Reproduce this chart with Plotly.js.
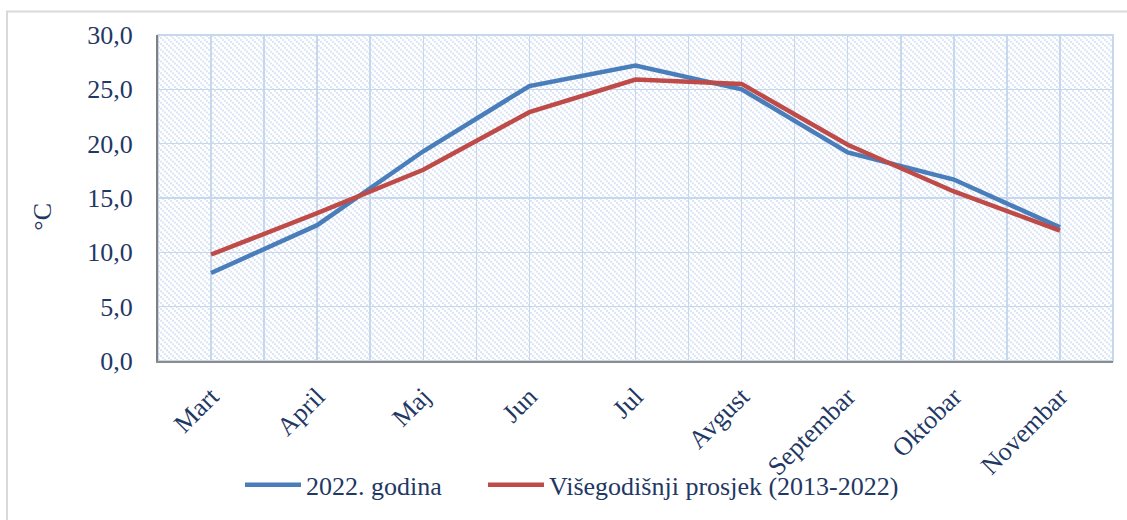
<!DOCTYPE html>
<html>
<head>
<meta charset="utf-8">
<script src="https://cdn.plot.ly/plotly-3.0.1.min.js"></script>
<style>html,body{margin:0;padding:0;background:#fff;}#chart{width:1127px;height:520px;}</style>
</head>
<body>
<div id="chart"></div>
<script>
const categories = ["Mart", "April", "Maj", "Jun", "Jul", "Avgust", "Septembar", "Oktobar", "Novembar"];
const series2022 = [8.1, 12.5, 19.3, 25.3, 27.2, 25.0, 19.2, 16.7, 12.3];
const seriesAvg = [9.8, 13.6, 17.6, 22.9, 25.9, 25.5, 19.9, 15.6, 12.0];
const seriesNames = ["2022. godina", "Višegodišnji prosjek (2013-2022)"];
const yTitle = "°C";

const idx = categories.map((c, i) => i);
const txtColor = "#1f3864";
const gridColor = "#c6d7ee";
const fontFam = "Liberation Serif, Times New Roman, serif";
const fs = 26;

const hatch = "<svg xmlns='http://www.w3.org/2000/svg' width='955' height='332'>" +
  "<defs><pattern id='p' width='6' height='6' patternUnits='userSpaceOnUse'>" +
  "<rect x='0' y='0' width='2' height='2' fill='#dbe5f5'/>" +
  "<rect x='2' y='2' width='2' height='2' fill='#dbe5f5'/>" +
  "<rect x='4' y='4' width='2' height='2' fill='#dbe5f5'/>" +
  "</pattern></defs><rect width='955' height='332' fill='white'/><rect width='955' height='332' fill='url(#p)'/></svg>";
const hatchSrc = "data:image/svg+xml;charset=utf-8," + encodeURIComponent(hatch);

const traces = [
  {x: idx, y: series2022, name: seriesNames[0], type: "scatter", mode: "lines",
   line: {color: "#4a7ebb", width: 4.5}, legend: "legend"},
  {x: idx, y: seriesAvg, name: seriesNames[1], type: "scatter", mode: "lines",
   line: {color: "#be4b48", width: 4.5}, legend: "legend2"}
];

const legendBase = {orientation: "h", xanchor: "left", y: -0.38, yanchor: "middle",
  font: {family: fontFam, size: fs, color: txtColor}, itemwidth: 56, bgcolor: "rgba(0,0,0,0)"};

const layout = {
  width: 1127, height: 520,
  margin: {l: 158, r: 14, t: 35, b: 153},
  paper_bgcolor: "#ffffff",
  plot_bgcolor: "rgba(0,0,0,0)",
  separators: ",.",
  font: {family: fontFam, color: txtColor, size: fs},
  showlegend: true,
  legend: Object.assign({}, legendBase, {x: (240 - 158) / 955}),
  legend2: Object.assign({}, legendBase, {x: (483 - 158) / 955}),
  xaxis: {
    type: "linear", range: [-0.5, categories.length - 0.5],
    tickmode: "array", tickvals: idx, ticktext: categories, tickangle: -45,
    tickfont: {family: fontFam, size: fs, color: txtColor},
    showgrid: true, gridcolor: gridColor, gridwidth: 1.5,
    minor: {tick0: -0.5, dtick: 1, showgrid: true, gridcolor: gridColor, gridwidth: 1.5, ticks: ""},
    zeroline: false, showline: true, linecolor: "#8c8c8c", linewidth: 2, ticks: "",
    ticklabelstandoff: 8,
    fixedrange: true
  },
  yaxis: {
    range: [0, 30], dtick: 5, tick0: 0, tickformat: ".1f",
    tickfont: {family: fontFam, size: fs, color: txtColor},
    showgrid: true, gridcolor: gridColor, gridwidth: 1.5,
    zeroline: false, showline: true, linecolor: "#808080", linewidth: 2, ticks: "",
    ticklabelstandoff: 18,
    fixedrange: true
  },
  annotations: [{text: yTitle, xref: "paper", yref: "paper", x: -115/955, y: (367 - 220) / 332,
                 xanchor: "center", yanchor: "middle", textangle: -90, showarrow: false,
                 font: {family: fontFam, size: fs, color: txtColor}}],
  images: [{source: hatchSrc, xref: "paper", yref: "paper", x: 0, y: 1, sizex: 1, sizey: 1,
            xanchor: "left", yanchor: "top", sizing: "stretch", layer: "below"}],
  shapes: [
    {type: "rect", xref: "paper", yref: "paper", x0: 0, x1: 1, y0: 0, y1: 1,
     line: {color: gridColor, width: 2}, fillcolor: "rgba(0,0,0,0)", layer: "below"},
    {type: "rect", xref: "paper", yref: "paper", x0: -151/955, x1: 1.2, y0: -2, y1: 1 + 24/332,
     line: {color: "#d9d9d9", width: 2}, fillcolor: "rgba(0,0,0,0)", layer: "below"}
  ]
};

Plotly.newPlot("chart", traces, layout, {displayModeBar: false, staticPlot: true});
</script>
</body>
</html>
